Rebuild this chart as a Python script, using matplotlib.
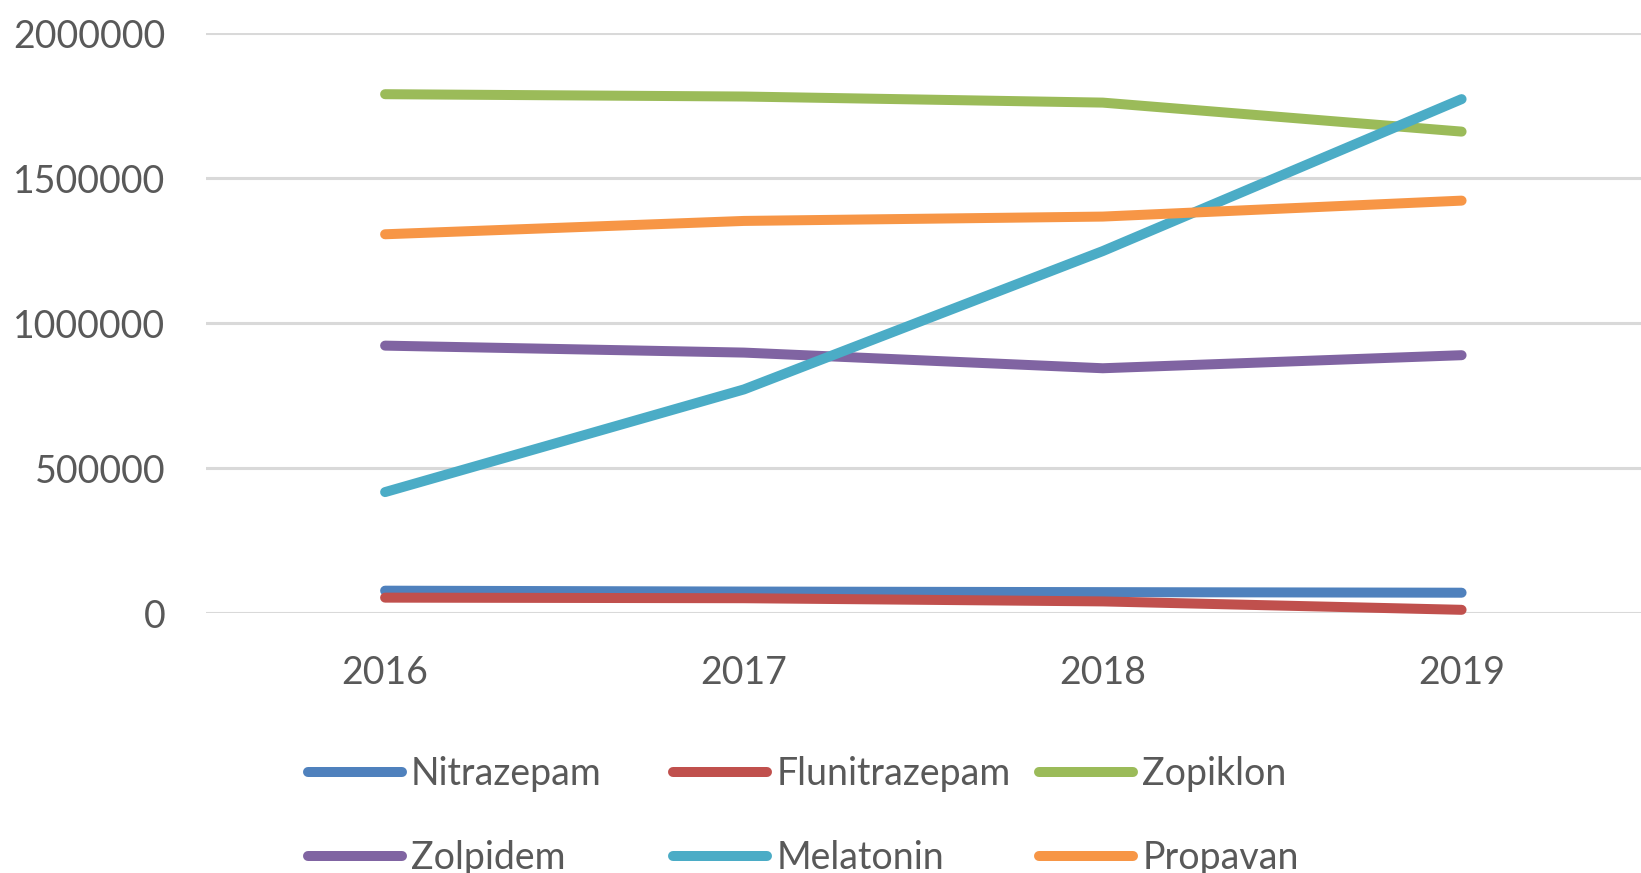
import matplotlib
matplotlib.use("Agg")
import matplotlib.pyplot as plt

years = ["2016", "2017", "2018", "2019"]
series_names = ["Nitrazepam", "Flunitrazepam", "Zopiklon", "Zolpidem", "Melatonin", "Propavan"]
nitrazepam = [78000, 75000, 73000, 71000]
flunitrazepam = [54000, 52000, 41000, 12000]
zopiklon = [1790000, 1782000, 1761000, 1661000]
zolpidem = [923000, 899000, 845000, 890000]
melatonin = [418000, 772000, 1249000, 1773000]
propavan = [1307000, 1353000, 1368000, 1423000]
y_ticks = [0, 500000, 1000000, 1500000, 2000000]

values = [nitrazepam, flunitrazepam, zopiklon, zolpidem, melatonin, propavan]
colors = ["#4F81BD", "#C0504D", "#9BBB59", "#8064A2", "#4BACC6", "#F79646"]

FONT = "Lato"
FS = 27
GRAY = "#595959"

fig = plt.figure(figsize=(16.41, 8.73), dpi=100)
ax = fig.add_axes([205.7 / 1641, 1 - 613.3 / 873, 1 - 205.7 / 1641, (613.3 - 33.3) / 873])

x = [i + 0.5 for i in range(len(years))]
handles = []
for name, vals, c in zip(series_names, values, colors):
    (ln,) = ax.plot(x, vals, color=c, lw=7.2, solid_capstyle="round",
                    solid_joinstyle="round", clip_on=False, label=name, zorder=3)
    handles.append(ln)

ax.set_xlim(0, 4)
ax.set_ylim(0, 2000000)
ax.set_yticks(y_ticks)
ax.set_yticklabels([str(v) for v in y_ticks])
ax.set_xticks(x)
ax.set_xticklabels(years)
ax.grid(axis="y", color="#D9D9D9", lw=2.2, zorder=0)
ax.set_axisbelow(True)
for s in ax.spines.values():
    s.set_visible(False)
ax.tick_params(axis="both", length=0, colors=GRAY, labelsize=FS)
ax.tick_params(axis="y", pad=29)
ax.tick_params(axis="x", pad=30)
for lab in ax.get_xticklabels() + ax.get_yticklabels():
    lab.set_fontfamily(FONT)
    lab.set_color(GRAY)

# Legend: three columns, two rows (row-wise order as in the reference)
col_x = [308 / 1641, 673 / 1641, 1039 / 1641]
top_y = 1 - 756 / 873
for ci in range(3):
    hs = [handles[ci], handles[ci + 3]]
    leg = fig.legend(handles=hs, labels=[h.get_label() for h in hs],
                     loc="upper left", bbox_to_anchor=(col_x[ci], top_y),
                     bbox_transform=fig.transFigure, frameon=False,
                     borderpad=0, borderaxespad=0, handlelength=2.5,
                     handletextpad=0.25, labelspacing=1.28,
                     prop={"family": FONT, "size": FS})
    for t in leg.get_texts():
        t.set_color(GRAY)
    for l in leg.get_lines():
        l.set_solid_capstyle("round")
        l.set_linewidth(7.2)

fig.savefig("out.png", dpi=100)
